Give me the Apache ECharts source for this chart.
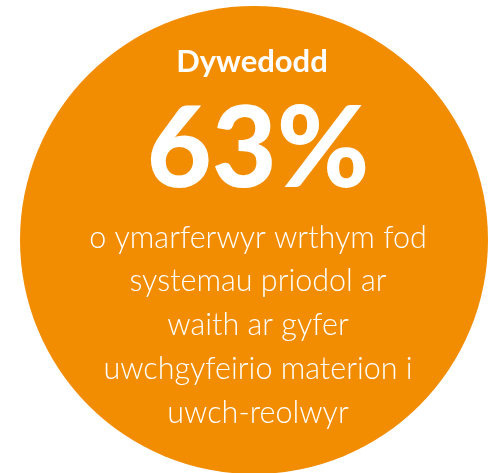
<!DOCTYPE html>
<html>
<head>
<meta charset="utf-8">
<script src="https://cdn.jsdelivr.net/npm/echarts@6/dist/echarts.min.js"></script>
<style>
html,body{margin:0;padding:0;background:#fff;}
#chart{width:493px;height:473px;}
</style>
</head>
<body>
<div id="chart"></div>
<script>
const headline = "Dywedodd";
const percentValue = 63;
const bodyLines = [
  "o ymarferwyr wrthym fod",
  "systemau priodol ar",
  "waith ar gyfer",
  "uwchgyfeirio materion i",
  "uwch-reolwyr"
];
const circleData = [{ name: "circle", value: 1 }];

const chart = echarts.init(document.getElementById('chart'), null, { renderer: 'canvas' });
const ORANGE = '#f28c00';
const FONT = 'Lato, "Open Sans", sans-serif';

const graphics = [];
graphics.push({
  type: 'text', x: 252, y: 77, z: 10,
  style: { text: headline, fill: '#fff', font: '700 31px ' + FONT, textAlign: 'center', textVerticalAlign: 'bottom' }
});
graphics.push({
  type: 'text', x: 258, y: 151, z: 10,
  style: { text: percentValue + '%', fill: '#fff', font: '900 112px ' + FONT, textAlign: 'center', textVerticalAlign: 'middle' }
});
const baselines = [247, 290, 334, 378, 422];
bodyLines.forEach((t, i) => {
  graphics.push({
    type: 'text', x: 258, y: baselines[i] - 9, z: 10,
    style: { text: t, fill: '#fff', font: '300 30.5px ' + FONT, textAlign: 'center', textVerticalAlign: 'middle' }
  });
});

chart.setOption({
  animation: false,
  series: [{
    type: 'pie',
    center: [254, 240],
    radius: [0, 234],
    silent: true,
    label: { show: false },
    labelLine: { show: false },
    itemStyle: { color: ORANGE, borderWidth: 0 },
    data: circleData
  }],
  graphic: graphics
});
</script>
</body>
</html>
